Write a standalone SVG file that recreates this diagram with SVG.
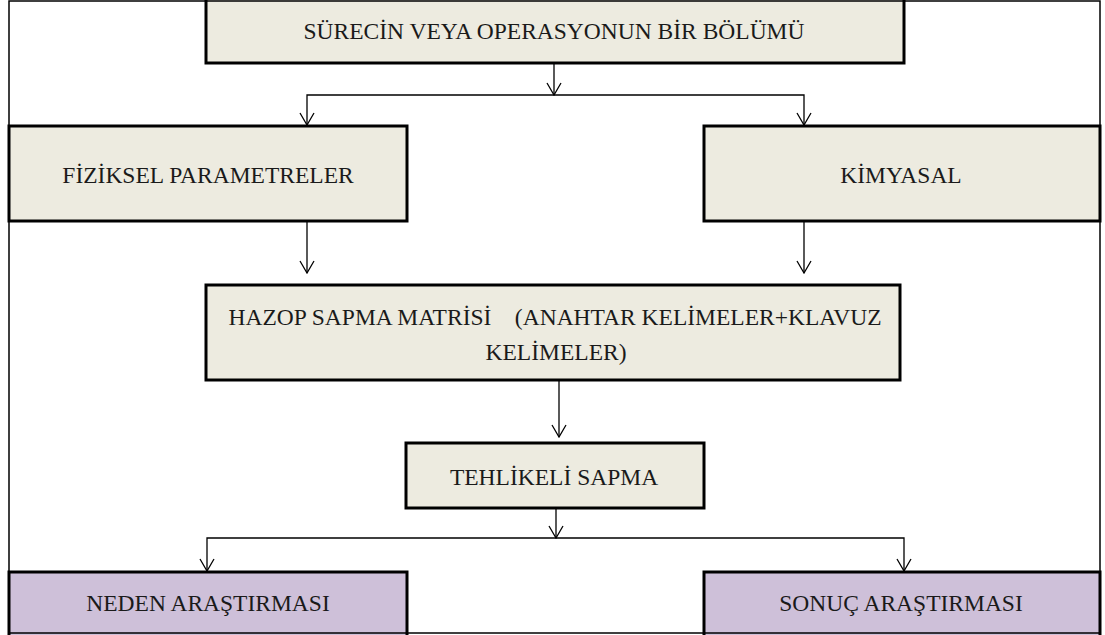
<svg xmlns="http://www.w3.org/2000/svg" width="1105" height="635" viewBox="0 0 1105 635">
<defs>
<style>
.frame{fill:none;stroke:#000;stroke-width:1.5}
.box{fill:#EDEBE0;stroke:#000;stroke-width:3}
.pbox{fill:#CEC0D9;stroke:#000;stroke-width:3}
.lbl{font-family:"Liberation Serif","Times New Roman",serif;font-size:23.5px;fill:#1a1a1a;text-anchor:middle}
.con{fill:none;stroke:#000;stroke-width:1.3}
</style>
<marker id="arr" viewBox="0 0 14 16" refX="13" refY="8" markerWidth="14" markerHeight="16" markerUnits="userSpaceOnUse" orient="auto-start-reverse">
<polyline points="1,1 13,8 1,15" fill="none" stroke="#000" stroke-width="1.3"/>
</marker>
</defs>
<rect width="1105" height="635" fill="#fff"/>
<g id="connectors">
<path class="con" d="M554,63 V95" marker-end="url(#arr)"/>
<path class="con" d="M307,125 V95 H804 V125" marker-start="url(#arr)" marker-end="url(#arr)"/>
<path class="con" d="M307,221 V273" marker-end="url(#arr)"/>
<path class="con" d="M804,221 V273" marker-end="url(#arr)"/>
<path class="con" d="M559,380 V437" marker-end="url(#arr)"/>
<path class="con" d="M556,508 V538" marker-end="url(#arr)"/>
<path class="con" d="M207,571 V538 H904 V571" marker-start="url(#arr)" marker-end="url(#arr)"/>
</g>
<g id="node-surec">
<rect class="box" x="206" y="-2" width="698" height="65"/>
<text class="lbl" x="554" y="39">SÜRECİN VEYA OPERASYONUN BİR BÖLÜMÜ</text>
</g>
<g id="node-fiziksel">
<rect class="box" x="9" y="126" width="398" height="95"/>
<text class="lbl" x="208" y="183">FİZİKSEL PARAMETRELER</text>
</g>
<g id="node-kimyasal">
<rect class="box" x="704" y="126" width="396" height="95"/>
<text class="lbl" x="901" y="183">KİMYASAL</text>
</g>
<g id="node-hazop">
<rect class="box" x="206" y="285" width="694" height="95"/>
<text class="lbl" x="555" y="325" xml:space="preserve">HAZOP SAPMA MATRİSİ    (ANAHTAR KELİMELER+KLAVUZ</text>
<text class="lbl" x="556" y="360">KELİMELER)</text>
</g>
<g id="node-tehlikeli">
<rect class="box" x="406" y="443" width="298" height="65"/>
<text class="lbl" x="554" y="485">TEHLİKELİ SAPMA</text>
</g>
<g id="node-neden">
<rect class="pbox" x="9" y="572" width="398" height="65"/>
<text class="lbl" x="208" y="611">NEDEN ARAŞTIRMASI</text>
</g>
<g id="node-sonuc">
<rect class="pbox" x="704" y="572" width="396" height="65"/>
<text class="lbl" x="901" y="611">SONUÇ ARAŞTIRMASI</text>
</g>
<rect class="frame" x="9" y="1" width="1091" height="632"/>
</svg>
